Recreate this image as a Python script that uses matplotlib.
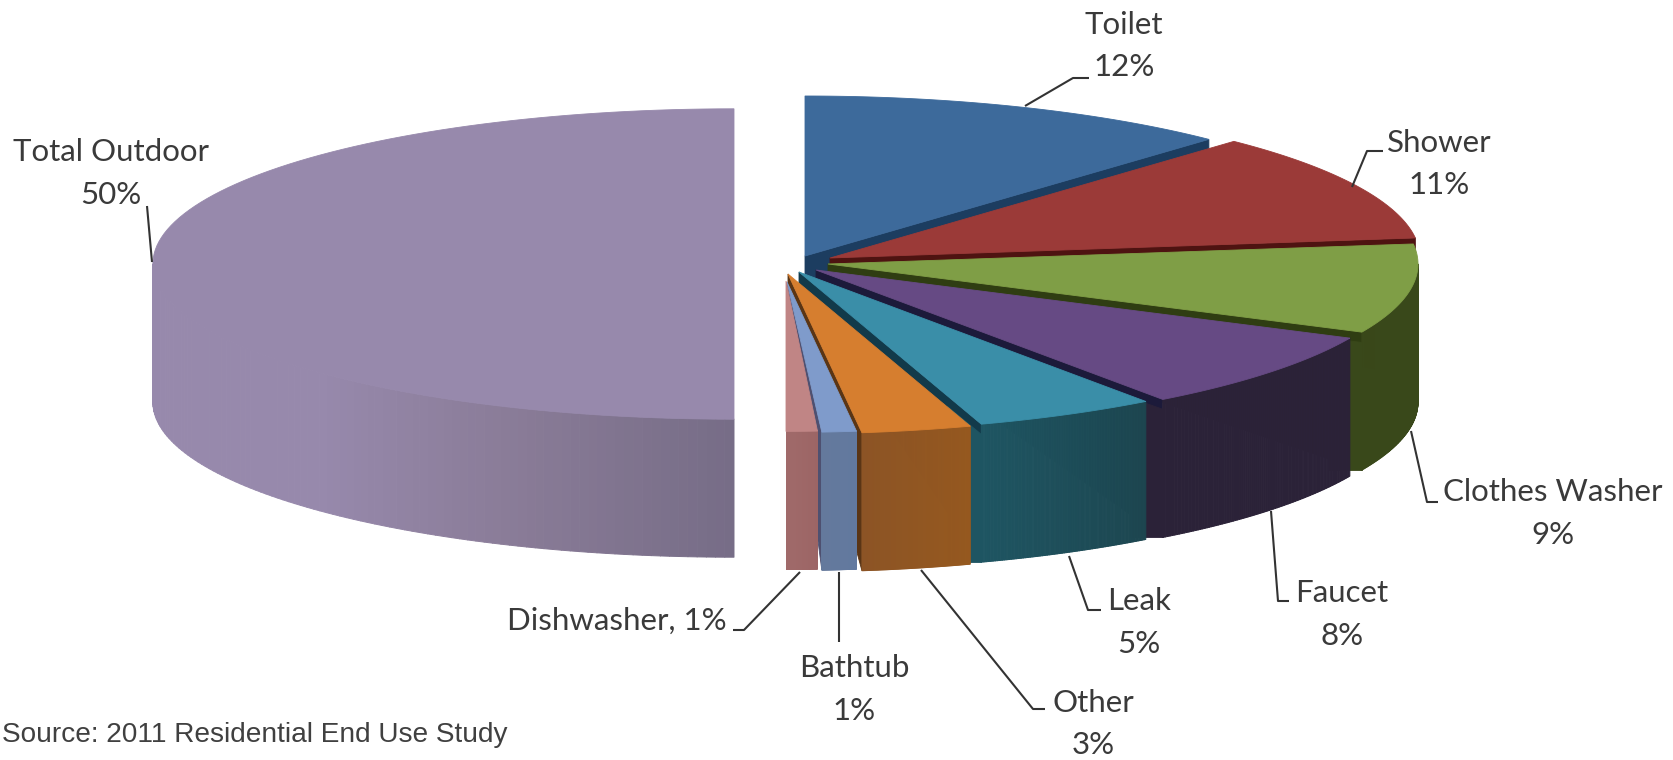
import numpy as np
import matplotlib
matplotlib.use("Agg")
import matplotlib.pyplot as plt
from matplotlib.colors import to_rgb, LinearSegmentedColormap
from matplotlib.collections import PolyCollection

# ---- data ----
categories = ["Toilet", "Shower", "Clothes Washer", "Faucet", "Leak", "Other", "Bathtub", "Dishwasher", "Total Outdoor"]
shares = [12, 11, 9, 8, 5, 3, 1, 1, 50]
source_note = "Source: 2011 Residential End Use Study"

# ---- style ----
top_colors = ["#3D6A9B", "#9B3A38", "#7F9E46", "#664A84", "#3A8EA8", "#D67E2F", "#7F9BCB", "#C08585", "#9789AC"]
wall_colors = ["#1C3D60", "#4E1311", "#2F3D12", "#1C1A3A", "#123A4A", "#5A3515", "#4E5070", "#9C6565", "#776D87"]
side_stops = [
    ["#1C3D60", "#1C3D60"], ["#4E1311", "#4E1311"], ["#39481A", "#39481A"], ["#2B2238", "#2B2238"],
    ["#1D4650", "#1E5562"], ["#96591F", "#8C5425"], ["#62799F", "#64799C"], ["#9C6565", "#A06A6A"],
    ["#776D87", "#8A7C98", "#9789AC", "#9789AC", "#9789AC"],
]
# pie centre of each exploded slice, ellipse size, thickness (pixel layout)
explode_centres = [(805, 256), (830, 258), (828, 264), (816, 270), (799, 272),
                   (788, 274), (787, 282), (786, 281), (734, 264)]
size_scale = [(1, 1), (1, 1), (1, 1), (1, 1), (1, 1), (1, 1), (0.94, 0.94), (0.85, 0.94), (0.985, 0.97)]
RX, RY, DEPTH, WALL_INNER = 590.0, 160.0, 138.0, 24.0
TEXT = "#3A3A3A"
FONT = "Lato"
FS = 22.5

fig = plt.figure(figsize=(16.73, 7.6), dpi=100, facecolor="white")
ax = fig.add_axes([0, 0, 1, 1])
ax.set_xlim(0, 1673)
ax.set_ylim(760, 0)
ax.axis("off")


def rim(i, deg):
    t = np.radians(deg)
    cx, cy = explode_centres[i]
    sx, sy = size_scale[i]
    return cx + RX * sx * np.sin(t), cy - RY * sy * np.cos(t)


edges = np.cumsum([0] + shares) * 3.6
order = [8, 0, 1, 2, 3, 4, 5, 6, 7]
z = 1
for i in order:
    start, end = edges[i], edges[i + 1]
    cx, cy = explode_centres[i]
    ts = np.linspace(start, end, 120)
    rx_, ry_ = rim(i, ts)
    # radial wall on the clockwise side (none where it faces straight at the viewer's left)
    if end < 180:
        ex, ey = rim(i, end)
        wall = [(cx, cy), (ex, ey), (ex, ey + DEPTH), (cx, cy + WALL_INNER)]
        ax.fill(*zip(*wall), color=wall_colors[i], lw=0.6, zorder=z)
        z += 1
        if 90 < end <= 165:
            # the part of the wall seen below the rim takes the side colour
            slope = (ey - cy) / (ex - cx)
            w = 34
            patch = [(ex, ey + 10), (ex, ey + DEPTH), (ex - w, ey + DEPTH), (ex - w, ey + 10 - slope * w)]
            ax.fill(*zip(*patch), color=side_stops[i][-1], lw=0.6, zorder=z)
            z += 1
    # outer rim
    a0, a1 = max(start, 90), min(end, 270)
    if a1 > a0:
        aa = np.linspace(a0, a1, 100)
        xx, yy = rim(i, aa)
        cmap = LinearSegmentedColormap.from_list("s", [to_rgb(c) for c in side_stops[i]])
        quads, cols = [], []
        for k in range(len(aa) - 1):
            quads.append([(xx[k], yy[k]), (xx[k + 1], yy[k + 1]),
                          (xx[k + 1], yy[k + 1] + DEPTH), (xx[k], yy[k] + DEPTH)])
            cols.append(cmap(k / (len(aa) - 2)))
        ax.add_collection(PolyCollection(quads, facecolors=cols, edgecolors=cols, linewidths=0.7, zorder=z))
        z += 1
    # top face
    px = np.r_[cx, rx_]
    py = np.r_[cy, ry_]
    ax.fill(px, py, color=top_colors[i], lw=0.6, zorder=z)
    z += 1

# ---- labels ----
label_pos = {
    "Toilet": (1124, 25, 67), "Shower": (1439, 143, 185), "Clothes Washer": (1553, 492, 535),
    "Faucet": (1342, 593, 636), "Leak": (1139, 601, 644), "Other": (1093, 703, 745),
    "Bathtub": (854, 668, 711), "Total Outdoor": (111, 152, 195),
}
for name, v in zip(categories, shares):
    if name == "Dishwasher":
        ax.text(617, 621, f"{name}, {v}%", ha="center", va="center", fontsize=FS, family=FONT, color=TEXT, zorder=50)
        continue
    x, y1, y2 = label_pos[name]
    ax.text(x, y1, name, ha="center", va="center", fontsize=FS, family=FONT, color=TEXT, zorder=50)
    ax.text(x, y2, f"{v}%", ha="center", va="center", fontsize=FS, family=FONT, color=TEXT, zorder=50)

leaders = [
    [(1025, 106), (1073, 78), (1089, 78)],
    [(1352, 187), (1367, 151), (1383, 151)],
    [(1411, 431), (1427, 502), (1438, 502)],
    [(1271, 511), (1278, 601), (1289, 601)],
    [(1069, 556), (1088, 610), (1101, 610)],
    [(921, 570), (1033, 709), (1045, 709)],
    [(839, 572), (839, 642)],
    [(800, 572), (744, 630), (733, 630)],
    [(152, 262), (147, 206)],
]
for pts in leaders:
    ax.plot(*zip(*pts), color="#333333", lw=1.5, zorder=40, solid_capstyle="butt")

ax.text(2, 735, source_note, ha="left", va="center", fontsize=20.2, family="Liberation Sans", color="#404040", zorder=50)

fig.savefig("out.png", dpi=100, facecolor="white")
